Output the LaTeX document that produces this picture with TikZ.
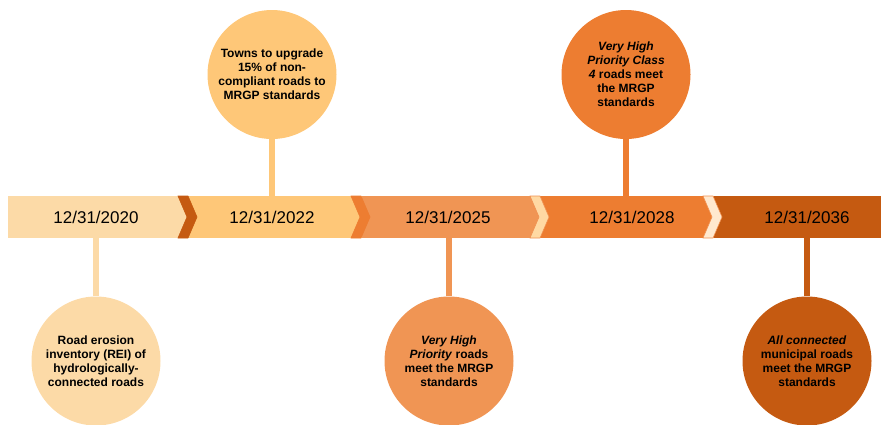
\documentclass[tikz,border=0pt]{standalone}
\usepackage{fontspec}
\setmainfont{Liberation Sans}
\usepackage{tikz}
\definecolor{peach}{HTML}{FCDAA7}
\definecolor{sand}{HTML}{FEC778}
\definecolor{melon}{HTML}{F09554}
\definecolor{tangerine}{HTML}{ED7D31}
\definecolor{rust}{HTML}{C55A11}
\definecolor{cream}{HTML}{FFD9A3}
\definecolor{ivory}{HTML}{FFE9CF}
\tikzset{
  date/.style={minimum height=42pt, inner sep=0pt, font=\fontsize{17}{20}\selectfont},
  goal/.style={circle, minimum size=129pt, inner sep=0pt, fill=#1, align=center, font=\fontsize{12}{14}\selectfont\bfseries},
  stem/.style={line width=6.5pt, draw=#1},
  chev/.style={fill=#1, line width=0.6pt, line join=miter}
}

\begin{document}
\begin{tikzpicture}[x=1pt, y=-1pt]
\useasboundingbox (0,0) rectangle (881,424);

% bar
\fill[peach] (8,196) rectangle (188,238);
\fill[sand] (188,196) rectangle (362,238);
\fill[melon] (362,196) rectangle (540,238);
\fill[tangerine] (540,196) rectangle (714,238);
\fill[rust] (714,196) rectangle (881,238);

\filldraw[chev=rust, draw=rust] (178,196) -- ++(10,0) -- ++(9,21) -- ++(-9,21) -- ++(-10,0) -- ++(9,-21) -- cycle;
\filldraw[chev=tangerine, draw=tangerine] (351,196) -- ++(10,0) -- ++(9,21) -- ++(-9,21) -- ++(-10,0) -- ++(9,-21) -- cycle;
\filldraw[chev=cream, draw=tangerine!85] (530,196) -- ++(10,0) -- ++(9,21) -- ++(-9,21) -- ++(-10,0) -- ++(9,-21) -- cycle;
\filldraw[chev=ivory, draw=tangerine!85] (703,196) -- ++(10,0) -- ++(9,21) -- ++(-9,21) -- ++(-10,0) -- ++(9,-21) -- cycle;

\node[date] (D1) at (96,217) {12/31/2020};
\node[date] (D2) at (272,217) {12/31/2022};
\node[date] (D3) at (448,217) {12/31/2025};
\node[date] (D4) at (632,217) {12/31/2028};
\node[date] (D5) at (807,217) {12/31/2036};

% goals
\node[goal=peach] (G1) at (96,361) {Road erosion\\inventory (REI) of\\hydrologically-\\connected roads};
\node[goal=sand] (G2) at (272,74.5) {Towns to upgrade\\15\% of non-\\compliant roads to\\MRGP standards};
\node[goal=melon] (G3) at (449,361) {\textit{Very High}\\\textit{Priority} roads\\meet the MRGP\\standards};
\node[goal=tangerine] (G4) at (626,74.5) {\textit{Very High}\\\textit{Priority Class}\\\textit{4} roads meet\\the MRGP\\standards};
\node[goal=rust] (G5) at (807,361) {\textit{All connected}\\municipal roads\\meet the MRGP\\standards};

\draw[stem=peach] (G1.north) -- (G1.north |- D1.south);
\draw[stem=sand] (G2.south) -- (G2.south |- D2.north);
\draw[stem=melon] (G3.north) -- (G3.north |- D3.south);
\draw[stem=tangerine] (G4.south) -- (G4.south |- D4.north);
\draw[stem=rust] (G5.north) -- (G5.north |- D5.south);
\end{tikzpicture}
\end{document}
